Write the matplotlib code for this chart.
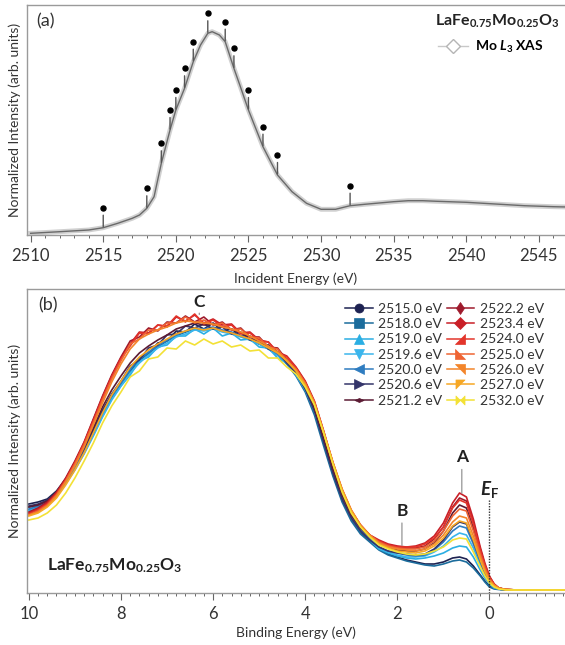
import numpy as np
import matplotlib
matplotlib.use('Agg')
import matplotlib.pyplot as plt
from matplotlib.lines import Line2D
from matplotlib.path import Path
from matplotlib.ticker import MultipleLocator
from matplotlib.transforms import offset_copy

plt.rcParams['font.family'] = ['Lato', 'DejaVu Sans']
plt.rcParams['mathtext.fontset'] = 'custom'
plt.rcParams['mathtext.rm'] = 'Lato'
plt.rcParams['mathtext.it'] = 'Lato:italic'
plt.rcParams['mathtext.bf'] = 'Lato:bold'
plt.rcParams['mathtext.bfit'] = 'Lato:bold:italic'

# ---- panel (a): Mo L3 XAS ----
xas_energy = [2510, 2512, 2514, 2515, 2516, 2517, 2517.5, 2518, 2518.5, 2519, 2519.6,
              2520, 2520.6, 2521.2, 2521.7, 2522.2, 2522.5, 2523, 2523.4, 2524, 2524.5,
              2525, 2526, 2527, 2528, 2529, 2530, 2531, 2532, 2533, 2534, 2535, 2536,
              2537, 2538, 2540, 2542, 2544, 2546, 2547]
xas_intensity = [1.7, 3.3, 5.0, 7.3, 11.7, 16.7, 20.0, 26.7, 38.3, 71.7, 105.0,
                 125.0, 146.7, 173.3, 190.0, 201.7, 203.3, 200.0, 193.3, 166.7, 146.0,
                 125.0, 88.3, 60.0, 43.3, 31.7, 25.7, 25.7, 29.3, 30.7, 32.0, 33.3, 34.3,
                 34.3, 33.7, 32.7, 31.0, 29.3, 28.3, 28.0]

# excitation energies (eV) used for the PES spectra
exc_energy = [2515.0, 2518.0, 2519.0, 2519.6, 2520.0, 2520.6, 2521.2,
              2522.2, 2523.4, 2524.0, 2525.0, 2526.0, 2527.0, 2532.0]

# ---- panel (b): valence band PES ----
binding_energy = [10.0, 9.8, 9.6, 9.4, 9.2, 9.0, 8.8, 8.6, 8.4, 8.2,
                  8.0, 7.8, 7.6, 7.4, 7.2, 7.0, 6.8, 6.6, 6.4, 6.2,
                  6.0, 5.8, 5.6, 5.4, 5.2, 5.0, 4.8, 4.6, 4.4, 4.2,
                  4.0, 3.8, 3.6, 3.4, 3.2, 3.0, 2.8, 2.6,
                  2.4, 2.2, 2.0, 1.8, 1.6, 1.4, 1.2, 1.0, 0.8, 0.65,
                  0.5, 0.35, 0.2, 0.1, 0.0, -0.1, -0.2, -0.35, -0.6, -1.0, -1.7]

pes_2515_0 = [89, 91, 94, 102, 114, 129, 145, 162, 181, 197, 210, 221, 235, 239, 250, 252, 262, 261, 269, 264,
              270, 262, 264, 257, 257, 249, 248, 238, 232, 219, 203, 181, 150, 119, 93, 74, 61, 52,
              44, 39, 36, 33, 31, 29, 29, 31, 35, 36, 34, 27, 18, 12, 7, 5, 4, 3, 3, 3, 3]
pes_2518_0 = [86, 88, 92, 100, 112, 127, 143, 161, 180, 196, 209, 222, 232, 240, 246, 252, 257, 261, 264, 263,
              265, 262, 260, 257, 253, 249, 244, 238, 229, 217, 201, 178, 147, 117, 91, 72, 59, 51,
              43, 38, 35, 32, 30, 28, 27, 29, 32, 33, 31, 25, 17, 11, 6, 4, 3.5, 3, 3, 3, 3]
pes_2519_0 = [83, 86, 90, 97, 110, 124, 140, 158, 177, 194, 207, 218, 232, 236, 246, 248, 257, 257, 264, 259,
              265, 257, 260, 253, 254, 246, 245, 235, 230, 218, 203, 182, 152, 121, 95, 75, 62, 53,
              44, 40, 37, 35, 34, 35, 37, 40, 45, 47, 46, 36, 23, 15, 9, 5, 4, 3, 3, 3, 3]
pes_2519_6 = [82, 85, 89, 96, 109, 123, 139, 157, 176, 193, 207, 220, 230, 238, 245, 250, 256, 259, 263, 262,
              264, 261, 259, 256, 253, 249, 244, 238, 230, 219, 204, 183, 153, 122, 96, 76, 63, 54,
              45, 41, 38, 36, 36, 37, 41, 47, 56, 60, 58, 45, 28, 18, 10, 6, 4, 3, 3, 3, 3]
pes_2520_0 = [84, 87, 91, 99, 111, 126, 142, 160, 180, 197, 210, 224, 234, 241, 247, 253, 258, 262, 265, 264,
              266, 263, 261, 257, 254, 250, 245, 239, 231, 220, 205, 184, 154, 123, 97, 77, 64, 54,
              46, 42, 40, 38, 37, 38, 43, 51, 62, 67, 65, 49, 31, 20, 11, 6, 4, 3, 3, 3, 3]
pes_2520_6 = [87, 89, 93, 100, 113, 128, 144, 163, 183, 199, 212, 227, 233, 245, 248, 258, 259, 267, 265, 269,
              264, 266, 259, 261, 253, 253, 244, 241, 230, 220, 204, 182, 151, 120, 94, 75, 62, 53,
              46, 42, 40, 39, 38, 39, 44, 53, 66, 71, 69, 52, 33, 21, 12, 7, 4, 3, 3, 3, 3]
pes_2521_2 = [86, 88, 92, 100, 113, 129, 146, 165, 186, 203, 217, 230, 240, 247, 253, 258, 264, 267, 270, 268,
              269, 266, 264, 260, 256, 252, 247, 241, 233, 222, 207, 185, 155, 124, 98, 78, 65, 56,
              49, 45, 43, 42, 42, 44, 50, 62, 80, 88, 85, 65, 40, 26, 15, 8, 5, 3.5, 3, 3, 3]
pes_2522_2 = [81, 85, 91, 101, 115, 132, 151, 174, 197, 218, 236, 252, 256, 265, 262, 271, 270, 277, 271, 276,
              268, 271, 263, 265, 256, 256, 246, 245, 233, 225, 211, 190, 160, 129, 102, 81, 67, 57,
              52, 48, 46, 45, 45, 47, 54, 66, 86, 95, 92, 70, 44, 28, 16, 9, 5, 3.5, 3, 3, 3]
pes_2523_4 = [80, 84, 90, 100, 114, 131, 150, 173, 196, 217, 235, 249, 261, 260, 268, 266, 276, 272, 278, 270,
              274, 268, 269, 260, 261, 253, 251, 241, 237, 226, 212, 192, 162, 130, 103, 82, 68, 58,
              53, 49, 47, 46, 47, 50, 57, 70, 90, 100, 96, 74, 46, 30, 17, 9, 5, 3.5, 3, 3, 3]
pes_2524_0 = [79, 83, 89, 99, 113, 130, 150, 172, 195, 216, 234, 247, 260, 259, 268, 267, 277, 271, 279, 269,
              273, 266, 268, 259, 260, 252, 251, 240, 236, 225, 211, 191, 161, 130, 103, 82, 68, 58,
              52, 48, 46, 46, 46, 49, 55, 66, 85, 93, 90, 69, 43, 28, 16, 9, 5, 3.5, 3, 3, 3]
pes_2525_0 = [78, 82, 88, 98, 112, 129, 148, 170, 193, 214, 232, 249, 254, 263, 263, 270, 270, 276, 270, 273,
              268, 270, 263, 264, 256, 255, 246, 244, 232, 224, 210, 191, 162, 131, 104, 83, 68, 58,
              51, 47, 45, 44, 44, 46, 52, 62, 77, 84, 82, 62, 39, 25, 14, 8, 5, 3.5, 3, 3, 3]
pes_2526_0 = [78, 81, 87, 97, 111, 127, 146, 168, 190, 211, 229, 244, 254, 259, 263, 266, 270, 272, 271, 270,
              269, 266, 264, 261, 257, 252, 247, 241, 233, 223, 209, 190, 161, 131, 104, 83, 68, 58,
              50, 46, 44, 43, 42, 44, 49, 58, 71, 77, 75, 57, 36, 23, 13, 8, 5, 3.5, 3, 3, 3]
pes_2527_0 = [77, 80, 86, 95, 108, 123, 140, 160, 180, 198, 212, 226, 236, 243, 249, 254, 259, 262, 265, 263,
              265, 262, 260, 257, 254, 250, 245, 240, 232, 222, 208, 189, 160, 130, 103, 82, 67, 57,
              49, 45, 42, 41, 40, 42, 47, 55, 67, 72, 70, 53, 33, 21, 12, 7, 4.5, 3.5, 3, 3, 3]
pes_2532_0 = [73, 75, 80, 88, 100, 115, 132, 150, 170, 187, 201, 216, 222, 234, 236, 245, 244, 252, 248, 254,
              249, 252, 246, 248, 242, 243, 235, 235, 226, 219, 206, 188, 160, 129, 101, 80, 66, 56,
              48, 44, 41, 39, 38, 39, 42, 46, 53, 55, 54, 41, 26, 17, 10, 6, 4, 3, 3, 3, 3]

pes_curves = [pes_2515_0, pes_2518_0, pes_2519_0, pes_2519_6, pes_2520_0, pes_2520_6, pes_2521_2,
              pes_2522_2, pes_2523_4, pes_2524_0, pes_2525_0, pes_2526_0, pes_2527_0, pes_2532_0]

# styles
colors = ['#1d2251', '#1b6c9c', '#2aaee3', '#3ab5ec', '#2e7cc0', '#34356a', '#5b1b34',
          '#9e1a2c', '#c91f27', '#e3352b', '#ef6433', '#f3852a', '#f6a724', '#f3e136']


def tri(pts):
    return Path(pts + [pts[0]], [Path.MOVETO] + [Path.LINETO] * (len(pts) - 1) + [Path.CLOSEPOLY])


bowtie = Path([(-1, 1), (0, 0), (1, 1), (1, -1), (0, 0), (-1, -1), (-1, 1)],
              [Path.MOVETO] + [Path.LINETO] * 5 + [Path.CLOSEPOLY])
markers = ['o', 's', '^', 'v', '<', '>', tri([(-1, 0), (0, 0.45), (1, 0), (0, -0.45)]),
           'd', 'D', tri([(-1, -1), (1, -1), (1, 1)]), tri([(-1, 1), (-1, -1), (1, -1)]),
           tri([(-1, 1), (1, 1), (1, -1)]), tri([(-1, 1), (1, 1), (-1, -1)]), bowtie]

W, H = 565, 645
fig = plt.figure(figsize=(W / 100, H / 100), dpi=100)
ax1 = fig.add_axes([27 / W, 1 - 235 / H, 1 - 27 / W, 230 / H])
ax2 = fig.add_axes([27 / W, 1 - 593 / H, 1 - 27 / W, 304 / H])

spine_col = '#9a9a9a'
txt_col = '#333333'
for ax in (ax1, ax2):
    ax.spines['right'].set_visible(False)
    for s in ('left', 'top', 'bottom'):
        ax.spines[s].set_color(spine_col)
        ax.spines[s].set_linewidth(1.0)
    ax.set_yticks([])
    ax.tick_params(axis='x', which='major', direction='out', length=5, width=0.8,
                   color='#666666', labelsize=12, labelcolor=txt_col, pad=4.5)
    ax.tick_params(axis='x', which='minor', direction='out', length=2.5, width=0.7,
                   color='#666666')

# panel (a)
ax1.plot(xas_energy, xas_intensity, color='#d0d0d0', lw=3.5)
ax1.plot(xas_energy, xas_intensity, color='#6a6a6a', lw=1.0)
ax1.set_xlim(2509.75, 2546.8)
ax1.set_ylim(0, 230)
ax1.set_xticks(np.arange(2510, 2546, 5))
ax1.xaxis.set_minor_locator(MultipleLocator(1))

curve_at = np.interp(exc_energy, xas_energy, xas_intensity)
dot_tr = offset_copy(ax1.transData, fig=fig, x=0, y=14.5, units='points')
for e, y in zip(exc_energy, curve_at):
    ax1.annotate('', xy=(e, y), xytext=(0, 9), textcoords='offset points',
                 arrowprops=dict(arrowstyle='-', color='#555555', lw=1.0,
                                 shrinkA=0, shrinkB=0.7))
ax1.plot(exc_energy, curve_at, 'o', color='black', ms=3.6, transform=dot_tr)

ax1.set_xlabel('Incident Energy (eV)', fontsize=10, color=txt_col, labelpad=6)
ax1.set_ylabel('Normalized Intensity (arb. units)', fontsize=10, color=txt_col, labelpad=4)

xas_handle = Line2D([], [], color='#c8c8c8', lw=1, marker='D', ms=7,
                    markerfacecolor='white', markeredgecolor='#b5b5b5')
ax1.legend([xas_handle], [r'Mo $\mathbfit{L}_\mathbf{3}$ XAS'], loc='center right',
           bbox_to_anchor=(551 / W, 1 - 47 / H), bbox_transform=fig.transFigure,
           frameon=False, prop={'weight': 'bold', 'size': 10}, handlelength=2.2,
           handletextpad=0.5, borderpad=0)
fig.text(497 / W, 1 - 21 / H,
         r'LaFe$_{\mathbf{0.75}}$Mo$_{\mathbf{0.25}}$O$_{\mathbf{3}}$',
         ha='center', va='center', fontsize=11.5, weight='bold', color='#222222')
fig.text(36 / W, 1 - 21 / H, '(a)', ha='left', va='center', fontsize=13, color=txt_col)

# panel (b)
for vals, c in zip(pes_curves, colors):
    ax2.plot(binding_energy, vals, color=c, lw=1.2)
ax2.set_xlim(10.04, -1.64)
ax2.set_ylim(0, 304)
ax2.set_xticks([10, 8, 6, 4, 2, 0])
ax2.xaxis.set_minor_locator(MultipleLocator(0.2))
ax2.set_xlabel('Binding Energy (eV)', fontsize=10, color=txt_col, labelpad=3)
ax2.set_ylabel('Normalized Intensity (arb. units)', fontsize=10, color=txt_col, labelpad=4)

top_env = np.max(np.array(pes_curves, dtype=float), axis=0)
for lab, e, dy, gap in (('C', 6.3, 3, 1), ('B', 1.9, 25, 1), ('A', 0.6, 26, 1)):
    y = np.interp(-e, -np.array(binding_energy), top_env) + gap
    ax2.annotate(lab, xy=(e, y), xytext=(0, dy), textcoords='offset points',
                 ha='center', va='bottom' if lab == 'C' else 'center',
                 fontsize=12.5, weight='bold', color='#222222',
                 arrowprops=dict(arrowstyle='-', color='#888888', lw=0.8,
                                 shrinkA=1, shrinkB=0))
ax2.axvline(0, ymin=0, ymax=93 / 304, color='#333333', lw=1.0, ls=(0, (1, 1)))
ax2.text(0.0, 103, r'$\mathbfit{E}_\mathbf{F}$', ha='center', va='center',
         fontsize=13.5, color='#222222')

handles = [Line2D([], [], color=c, lw=1.1, marker=m, ms=6.5, markeredgewidth=0.5)
           for c, m in zip(colors, markers)]
labels = ['%.1f eV' % e for e in exc_energy]
ax2.legend(handles, labels, ncol=2, loc='upper left',
           bbox_to_anchor=(338 / W, 1 - 296 / H), bbox_transform=fig.transFigure,
           frameon=False, fontsize=10, handlelength=2.0, handletextpad=0.4,
           columnspacing=0.3, labelspacing=0.235, borderpad=0,
           labelcolor=txt_col)

fig.text(115 / W, 1 - 566 / H,
         r'LaFe$_{\mathbf{0.75}}$Mo$_{\mathbf{0.25}}$O$_{\mathbf{3}}$',
         ha='center', va='center', fontsize=12.5, weight='bold', color='#222222')
fig.text(38 / W, 1 - 305 / H, '(b)', ha='left', va='center', fontsize=13, color=txt_col)

fig.savefig('out.png', dpi=100)
